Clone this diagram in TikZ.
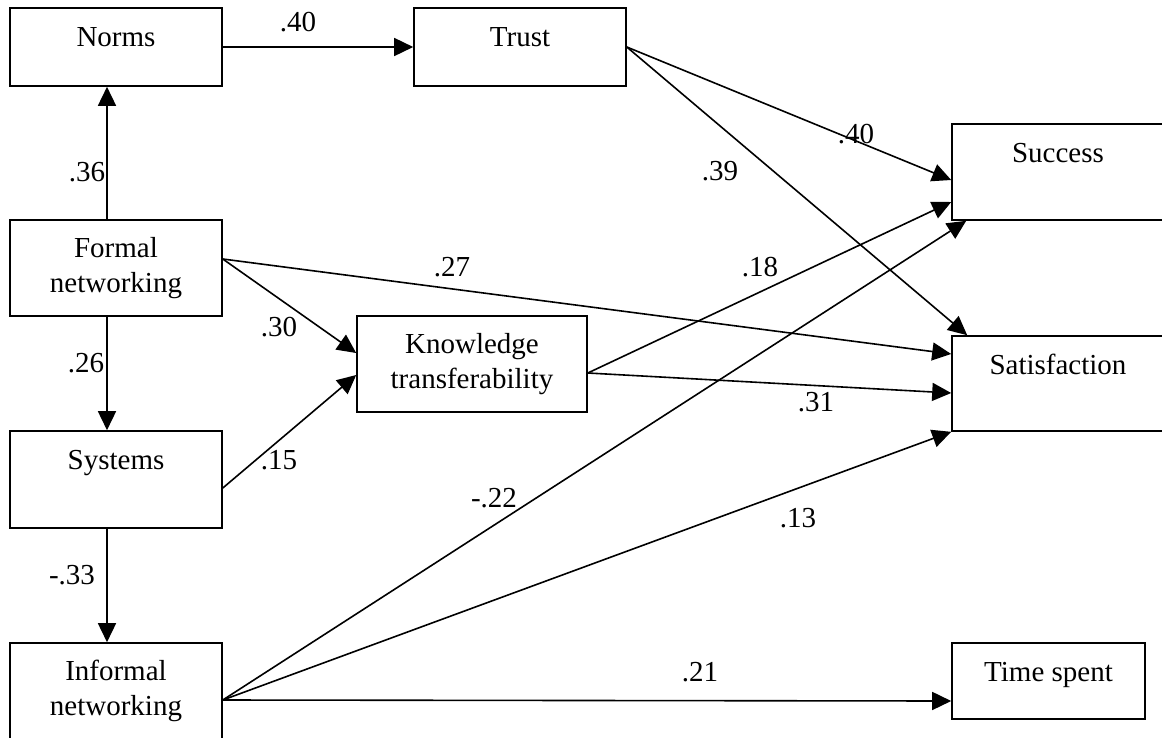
\documentclass[tikz,border=0pt]{standalone}
\usepackage{fontspec}
\setmainfont{Liberation Serif}
\usetikzlibrary{arrows.meta}
\tikzset{every node/.style={font=\fontsize{29}{35}\selectfont}}

\begin{document}
\begin{tikzpicture}[x=1pt, y=-1pt, line width=1.6pt, >={Triangle[length=19pt, width=18pt]}]
  % Fixed frame (size of the original figure)
  \path[use as bounding box] (0,0) rectangle (1162,737);

  \tikzset{
    box/.style={draw, inner xsep=0pt, inner ysep=0pt, minimum width=212pt, align=center},
    twoline/.style={box, minimum height=96pt},
    oneline/.style={box, text height=38pt, text depth=#1},
    coef/.style={inner sep=0pt}
  }

  % Variables.
  \node[oneline=40pt] (norms) at (116,47) {Norms};
  \node[oneline=40pt] (trust) at (520,47) {Trust};
  \node[twoline] (formal) at (116,268) {Formal\\networking};
  \node[oneline=59pt] (systems) at (116,479.5) {Systems};
  \node[twoline] (informal) at (116,691) {Informal\\networking};
  \node[twoline, minimum width=230pt] (know) at (472,364) {Knowledge\\transferability};
  \node[oneline=58pt] (success) at (1058,172) {Success};
  \node[oneline=57pt] (satis) at (1058,383.5) {Satisfaction};
  \node[oneline=38pt, minimum width=193pt] (time) at (1048.5,681) {Time spent};

  % Paths.
  \draw[->] (norms.east) -- (trust.west);
  \draw[->] ([xshift=-9pt]formal.north) -- ([xshift=-9pt]norms.south);
  \draw[->] ([xshift=-9pt]formal.south) -- ([xshift=-9pt]systems.north);
  \draw[->] ([xshift=-9pt]systems.south) -- ([xshift=-9pt]informal.north);
  \draw[->] (trust.east) -- ([yshift=-8pt]success.west);
  \draw[->] (trust.east) -- ([xshift=16pt]satis.north west);
  \draw[->] ([yshift=9pt]formal.east) -- ([yshift=11pt]know.west);
  \draw[->] ([yshift=9pt]formal.east) -- ([yshift=29.5pt]satis.west);
  \draw[->] ([yshift=-8.5pt]systems.east) -- ([yshift=-11pt]know.west);
  \draw[->] ([yshift=-9pt]know.east) -- ([yshift=-30pt]success.west);
  \draw[->] ([yshift=-9pt]know.east) -- ([yshift=-9.5pt]satis.west);
  \draw[->] ([yshift=-9pt]informal.east) -- ([xshift=15pt]success.south west);
  \draw[->] ([yshift=-9pt]informal.east) -- (satis.south west);
  \draw[->] ([yshift=-9pt]informal.east) -- ([yshift=-20pt]time.west);

  % Coefficients.
  \node[coef] (c40a) at (298,22) {.40};
  \node[coef] (c36) at (87,172) {.36};
  \node[coef] (c26) at (86,363) {.26};
  \node[coef] (c33) at (72,575) {-.33};
  \node[coef] (c30) at (279,327) {.30};
  \node[coef] (c15) at (279,460) {.15};
  \node[coef] (c27) at (452,267) {.27};
  \node[coef] (c18) at (760,267) {.18};
  \node[coef] (c39) at (720,171) {.39};
  \node[coef] (c40b) at (856,134) {.40};
  \node[coef] (c31) at (816,402) {.31};
  \node[coef] (c22) at (494,498) {-.22};
  \node[coef] (c13) at (798,518) {.13};
  \node[coef] (c21) at (700,672) {.21};
\end{tikzpicture}
\end{document}
